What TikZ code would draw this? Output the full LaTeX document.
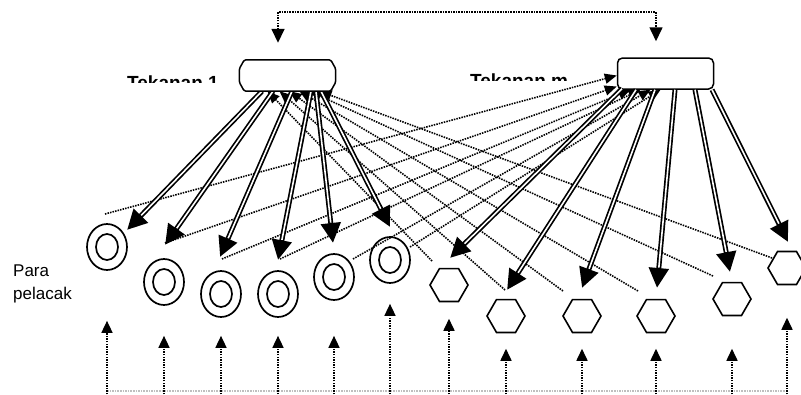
\documentclass[tikz,border=0pt]{standalone}
\usepackage{fontspec}
\setmainfont{Liberation Sans}
\usetikzlibrary{arrows.meta,shapes.geometric,calc}

\begin{document}
\begin{tikzpicture}[x=1pt,y=-1pt,
  dotline/.style={line width=1.6pt, dash pattern=on 1.5pt off 1.1pt},
  dotarrow/.style={dotline, -{Triangle[length=12pt,width=10pt]}},
  uparrow/.style={dotline, -{Triangle[length=12pt,width=11pt]}},
  toparrow/.style={dotline, {Triangle[length=14pt,width=13pt]}-{Triangle[length=14pt,width=13pt]}},
  bigarrow/.style={line width=5pt, -{Triangle[length=20pt,width=19pt]},
    postaction={draw=white, line width=1.6pt, -, shorten >=20.5pt}},
  tracker/.style={ellipse, draw, line width=1.7pt, minimum width=40pt,
    minimum height=46pt, inner sep=0pt, fill=white,
    path picture={\draw[line width=1.7pt] (path picture bounding box.center)
      ellipse [x radius=11pt, y radius=13pt];}},
  hexa/.style={regular polygon, regular polygon sides=6, draw, line width=1.6pt,
    minimum size=38pt, inner sep=0pt, fill=white},
  boxbase/.style={rectangle, inner sep=0pt, minimum width=96pt, minimum height=31pt},
  tlabel/.style={inner sep=0pt, font=\fontsize{19}{22}\selectfont\bfseries},
]
\useasboundingbox (0,0) rectangle (801,394);

% the two pressure boxes
\node[boxbase] (t1) at (287.5,75.5) {};
\node[boxbase, draw, line width=1.5pt, rounded corners=5pt, fill=white] (t2) at (665.5,73.5) {};

% trackers
\node[tracker] (c1) at (107,247) {};
\node[tracker] (c2) at (164,282) {};
\node[tracker] (c3) at (221,294) {};
\node[tracker] (c4) at (278,294) {};
\node[tracker] (c5) at (334,277) {};
\node[tracker] (c6) at (390,260) {};
\node[hexa] (h1) at (449,285) {};
\node[hexa] (h2) at (506,316) {};
\node[hexa] (h3) at (582,316) {};
\node[hexa] (h4) at (656,316) {};
\node[hexa] (h5) at (732,299) {};
\node[hexa] (h6) at (787,268) {};

% free ends of the connectors
\coordinate (top) at (0,12);
\coordinate (bot) at (0,397);
\coordinate (a1) at (127,230);
\coordinate (a2) at (165,245);
\coordinate (a3) at (220,257);
\coordinate (a4) at (278,260);
\coordinate (a5) at (333,243);
\coordinate (a6) at (390,227);
\coordinate (b1) at (450,258);
\coordinate (b2) at (507,290);
\coordinate (b3) at (582,288);
\coordinate (b4) at (657,288);
\coordinate (b5) at (730,272);
\coordinate (b6) at (788,242);
\coordinate (d1) at (105,214);
\coordinate (d2) at (165,243);
\coordinate (d3) at (222,259);
\coordinate (d4) at (280,259);
\coordinate (d5) at (353,259);
\coordinate (d6) at (410,247);
\coordinate (g1) at (432,261);
\coordinate (g2) at (505,290);
\coordinate (g3) at (563,291);
\coordinate (g4) at (638,291);
\coordinate (g5) at (713,276);
\coordinate (g6) at (772,258);

% dotted feedback lines
\draw[dotarrow] (d1) -- ([yshift=-2pt]t2.west);
\draw[dotarrow] (d2) -- ([yshift=-13pt]t2.west);
\draw[dotarrow] (d3) -- ([xshift=-35pt]t2.south);
\draw[dotarrow] (d4) -- ([xshift=-25pt]t2.south);
\draw[dotarrow] (d5) -- ([xshift=-15pt]t2.south);
\draw[dotarrow] (d6) -- ([xshift=-5pt]t2.south);
\draw[dotarrow] (g1) -- ([xshift=-20pt]t1.south);
\draw[dotarrow] (g2) -- ([xshift=-8pt]t1.south);
\draw[dotarrow] (g3) -- ([xshift=2pt]t1.south);
\draw[dotarrow] (g4) -- ([xshift=12pt]t1.south);
\draw[dotarrow] (g5) -- ([xshift=22pt]t1.south);
\draw[dotarrow] (g6) -- ([xshift=32pt]t1.south);

% link between the two boxes
\draw[toparrow] ([xshift=-9.5pt,yshift=17pt]t1.north) -- ([xshift=-9.5pt]t1.north |- top)
  -- ([xshift=-9.5pt]t2.north |- top) -- ([xshift=-9.5pt,yshift=16pt]t2.north);

% thick arrows to the trackers
\draw[bigarrow] ([xshift=-25.5pt]t1.south) -- (a1);
\draw[bigarrow] ([xshift=-14.5pt]t1.south) -- (a2);
\draw[bigarrow] ([xshift=4.5pt]t1.south) -- (a3);
\draw[bigarrow] ([xshift=23.5pt]t1.south) -- (a4);
\draw[bigarrow] ([xshift=28.5pt]t1.south) -- (a5);
\draw[bigarrow] ([xshift=33.5pt]t1.south) -- (a6);
\draw[bigarrow] ([xshift=-43.5pt,yshift=1pt]t2.south) -- (b1);
\draw[bigarrow] ([xshift=-29.5pt]t2.south) -- (b2);
\draw[bigarrow] ([xshift=-10.5pt]t2.south) -- (b3);
\draw[bigarrow] ([xshift=9.5pt]t2.south) -- (b4);
\draw[bigarrow] ([xshift=29.5pt]t2.south) -- (b5);
\draw[bigarrow] ([xshift=46.5pt]t2.south) -- (b6);

% outline of the first box
\draw[line width=1.5pt, rounded corners=1.5pt, fill=white]
  ([xshift=5pt]t1.north west) -- ([xshift=-5pt]t1.north east)
  -- ([yshift=-9pt]t1.north east) -- ([yshift=9pt]t1.south east)
  -- ([xshift=-5pt]t1.south east) -- ([xshift=5pt]t1.south west)
  -- ([yshift=9pt]t1.south west) -- ([yshift=-9pt]t1.north west) -- cycle;

% inputs from below
\draw[dotline, gray!50] (c1 |- 0,391) -- (h6 |- 0,391);
\draw[uparrow] (c1 |- bot) -- ([yshift=-50pt]c1.south);
\draw[uparrow] (c2 |- bot) -- ([yshift=-30pt]c2.south);
\draw[uparrow] (c3 |- bot) -- ([yshift=-18pt]c3.south);
\draw[uparrow] (c4 |- bot) -- ([yshift=-18pt]c4.south);
\draw[uparrow] (c5 |- bot) -- ([yshift=-35pt]c5.south);
\draw[uparrow] (c6 |- bot) -- ([yshift=-20pt]c6.south);
\draw[uparrow] (h1 |- bot) -- ([yshift=-16.5pt]h1.south);
\draw[uparrow] (h2 |- bot) -- ([yshift=-15.5pt]h2.south);
\draw[uparrow] (h3 |- bot) -- ([yshift=-15.5pt]h3.south);
\draw[uparrow] (h4 |- bot) -- ([yshift=-15.5pt]h4.south);
\draw[uparrow] (h5 |- bot) -- ([yshift=-32.5pt]h5.south);
\draw[uparrow] (h6 |- bot) -- ([yshift=-32.5pt]h6.south);

% labels, whose lower part is cut off
\begin{scope}
  \clip (120,60) rectangle (236,82);
  \node[tlabel, anchor=base west] (l1) at (127,89) {Tekanan 1};
\end{scope}
\begin{scope}
  \clip (465,60) rectangle (590,80.5);
  \node[tlabel, anchor=base west] (l2) at (470,87) {Tekanan m};
\end{scope}
\node[anchor=north west, align=left, inner sep=0pt,
  font=\fontsize{17}{23}\selectfont] (pp) at (13,265) {Para\\pelacak};
\end{tikzpicture}
\end{document}
